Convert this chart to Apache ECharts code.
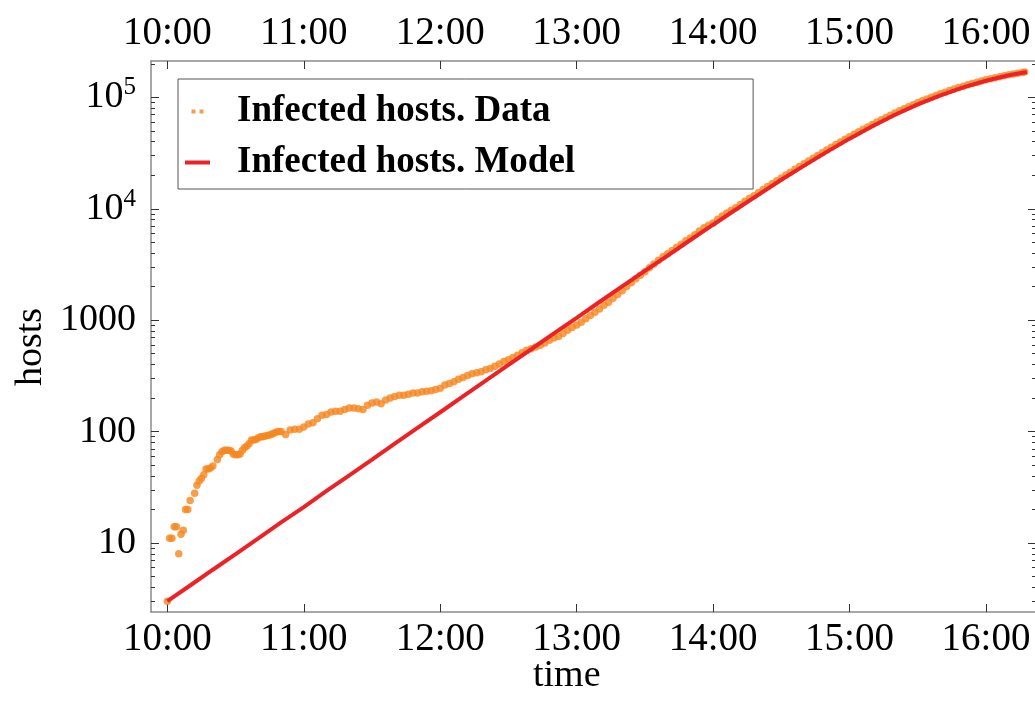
<!DOCTYPE html>
<html>
<head>
<meta charset="utf-8">
<title>Infected hosts</title>
<script src="https://cdn.jsdelivr.net/npm/echarts@6/dist/echarts.min.js"></script>
<style>
  html, body { margin: 0; padding: 0; background: #fff; }
  #chart { width: 1035px; height: 711px; }
</style>
</head>
<body>
<div id="chart"></div>
<script>
// Minutes after 10:00 and observed infected host counts
const dataMinutes = [
  0, 1, 2, 3, 4, 5, 6, 7, 8, 9, 10, 12, 13, 14, 15, 16, 17, 18, 19, 20,
  22, 23, 24, 25, 26, 27, 28, 29, 30, 31, 32, 33, 34, 35, 36, 37, 38, 39, 40,
  41, 42, 43, 44, 45, 46, 47, 48, 49, 50,
  52, 54, 56, 58, 60, 62, 64, 66, 68, 70, 72, 74, 76, 78, 80, 82, 84, 86, 88,
  90, 92, 94, 96, 98, 100, 102, 104, 106, 108, 110, 112, 114, 116, 118, 120,
  122, 124, 126, 128, 130, 132, 134, 136, 138, 140, 142, 144, 146, 148, 150,
  152, 154, 156, 158, 160, 162, 164, 166, 168, 170, 172, 174, 176, 178, 180,
  182, 184, 186, 188, 190, 192, 194, 196, 198, 200, 202, 204, 206, 208, 210,
  212, 214, 216, 218, 220, 222, 224, 226, 228, 230, 232, 234, 236, 238, 240,
  242, 244, 246, 248, 250, 252, 254, 256, 258, 260, 262, 264, 266, 268, 270,
  272, 274, 276, 278, 280, 282, 284, 286, 288, 290, 292, 294, 296, 298, 300,
  302, 304, 306, 308, 310, 312, 314, 316, 318, 320, 322, 324, 326, 328, 330,
  332, 334, 336, 338, 340, 342, 344, 346, 348, 350, 352, 354, 356, 358, 360,
  362, 364, 366, 368, 370, 372, 374, 376, 377
];
const dataHosts = [
  3, 11, 11, 14, 14, 8, 12, 13, 20, 20, 24, 28, 33, 36, 38, 41, 46, 46, 47, 49,
  56, 62, 66, 68, 68, 68, 67, 63, 62, 62, 63, 68, 72, 74, 78, 84, 84, 85, 88,
  90, 90, 91, 92, 93, 95, 97, 99, 100, 100,
  94, 103, 105, 105, 110, 117, 120, 130, 140, 142, 150, 152, 152, 158, 163, 163, 160, 158, 172,
  180, 184, 178, 192, 200, 206, 212, 212, 216, 222, 222, 228, 230, 232, 238, 245,
  262, 270, 280, 295, 305, 318, 330, 338, 345, 358, 368, 385, 405, 425, 440,
  462, 485, 510, 537, 555, 575, 595, 625, 660, 690, 715, 760, 810, 860, 905,
  960, 1030, 1100, 1180, 1260, 1360, 1450, 1570, 1700, 1840, 2000, 2170, 2350, 2530, 2720,
  2950, 3200, 3450, 3700, 3950, 4230, 4520, 4800, 5150, 5460, 5850, 6300, 6750, 7100, 7460,
  8050, 8600, 9150, 9700, 10230, 10900, 11700, 12400, 13100, 13930, 14900, 15800, 16800, 17800, 18880,
  20100, 21300, 22600, 23900, 25350, 26900, 28400, 30100, 31900, 33730, 35700, 37700, 39800, 42000, 44260,
  46600, 49000, 51700, 54300, 57150, 60100, 63000, 66100, 69200, 72440, 75700, 79000, 82500, 86000, 89540,
  93000, 96700, 100300, 104000, 107700, 111300, 115000, 118600, 122300, 125900, 129500, 133000, 136600, 140100, 143600,
  146800, 150000, 153200, 156400, 159600, 162200, 164800, 167400, 168500
];

// Fitted model curve
const modelMinutes = [
  0, 10, 20, 30, 40, 50, 60, 70, 80, 90, 100, 110, 120, 130, 140, 150, 160, 170, 180, 190,
  200, 210, 220, 230, 240, 250, 260, 270, 280, 290, 300, 310, 320, 330, 340, 350, 360, 370, 378
];
const modelHosts = [
  3, 4.15, 5.75, 7.95, 11, 15.3, 21, 29.3, 40.5, 56, 78, 108, 149, 207, 286, 396, 548, 760, 1050, 1455,
  2010, 2770, 3800, 5240, 7190, 9850, 13400, 18200, 24400, 32400, 42600, 55000, 69800, 86500, 104400, 123000, 141000, 157700, 169000
];

// Axis ticks and labels
const hourTicks = [0, 60, 120, 180, 240, 300, 360];
const hourLabels = ['10:00', '11:00', '12:00', '13:00', '14:00', '15:00', '16:00'];
const decadeTicks = [10, 100, 1000, 10000, 100000];
const decadeLabels = ['10', '100', '1000', '10|4', '10|5'];
const minorTicks = [
  3, 4, 5, 6, 7, 8, 9,
  20, 30, 40, 50, 60, 70, 80, 90,
  200, 300, 400, 500, 600, 700, 800, 900,
  2000, 3000, 4000, 5000, 6000, 7000, 8000, 9000,
  20000, 30000, 40000, 50000, 60000, 70000, 80000, 90000, 200000
];

const FONT = 'Liberation Serif';
const FRAME = '#8a8a8a';
const TICK = '#333';
const X_MIN = -7.2, X_MAX = 382;
const Y_MIN = 2.4, Y_MAX = 212000;

function pair(xs, ys) { return xs.map((x, i) => [x, ys[i]]); }

function hourText(v) {
  const i = hourTicks.indexOf(Math.round(v));
  return i >= 0 ? hourLabels[i] : '';
}
function decadeText(v) {
  const i = decadeTicks.findIndex(d => Math.abs(d - v) / d < 1e-6);
  if (i < 0) return '';
  const parts = decadeLabels[i].split('|');
  return parts.length > 1 ? '{b|' + parts[0] + '}{s|' + parts[1] + '}' : '{b|' + parts[0] + '}';
}

const labelRich = {
  b: { fontFamily: FONT, fontSize: 38, color: '#000', lineHeight: 44 },
  s: { fontFamily: FONT, fontSize: 25, color: '#000', verticalAlign: 'top', lineHeight: 44, padding: [0, 0, 14, 0] }
};

function xAxisDef(pos) {
  return {
    type: 'value', position: pos, min: X_MIN, max: X_MAX,
    axisLine: { show: true, onZero: false, lineStyle: { color: FRAME, width: 1.5 } },
    axisTick: { show: true, inside: true, length: 8, customValues: hourTicks, lineStyle: { color: TICK, width: 1 } },
    axisLabel: { show: true, customValues: hourTicks, formatter: hourText, margin: 8,
                 fontFamily: FONT, fontSize: 39, color: '#000' },
    splitLine: { show: false }
  };
}
function yAxisDef(pos, minor) {
  return {
    type: 'log', logBase: 10, position: pos, min: Y_MIN, max: Y_MAX,
    axisLine: { show: !minor, onZero: false, lineStyle: { color: FRAME, width: 1.5 } },
    axisTick: { show: true, inside: true, length: minor ? 4 : 8,
                customValues: minor ? minorTicks : decadeTicks, lineStyle: { color: TICK, width: 1 } },
    axisLabel: { show: !minor && pos === 'left', customValues: decadeTicks, formatter: decadeText,
                 margin: 15, rich: labelRich },
    splitLine: { show: false }
  };
}

const chart = echarts.init(document.getElementById('chart'), null, { renderer: 'canvas' });
chart.setOption({
  animation: false,
  backgroundColor: '#fff',
  grid: { left: 151, top: 61, width: 885, height: 551, containLabel: false, outerBoundsMode: 'none' },
  xAxis: [xAxisDef('bottom'), xAxisDef('top')],
  yAxis: [yAxisDef('left', false), yAxisDef('left', true), yAxisDef('right', false), yAxisDef('right', true)],
  legend: {
    orient: 'vertical', left: 178, top: 79,
    padding: [14, 178, 8, 7],
    itemGap: 14, itemWidth: 25, itemHeight: 4,
    borderColor: '#555', borderWidth: 1,
    textStyle: { fontFamily: FONT, fontSize: 37, fontWeight: 'bold', color: '#000', padding: [0, 0, 0, 22] },
    data: [
      { name: 'Infected hosts. Data', icon: 'path://M0,0h4v4h-4zM8,0h4v4h-4z' },
      { name: 'Infected hosts. Model', icon: 'rect' }
    ]
  },
  graphic: [
    { type: 'text', left: 533, top: 657,
      style: { text: 'time', font: '38px "' + FONT + '"', fill: '#000' } },
    { type: 'text', x: 12, y: 386, rotation: Math.PI / 2,
      style: { text: 'hosts', font: '38px "' + FONT + '"', fill: '#000' } }
  ],
  series: [
    {
      name: 'Infected hosts. Data', type: 'scatter',
      data: pair(dataMinutes, dataHosts),
      symbol: 'circle', symbolSize: 7.5,
      itemStyle: { color: '#F6861E' },
      z: 2
    },
    {
      name: 'Infected hosts. Model', type: 'line',
      data: pair(modelMinutes, modelHosts),
      smooth: false, showSymbol: false, symbol: 'none',
      lineStyle: { color: '#EC2227', width: 4 },
      itemStyle: { color: '#EC2227' },
      z: 3
    }
  ]
});
</script>
</body>
</html>
